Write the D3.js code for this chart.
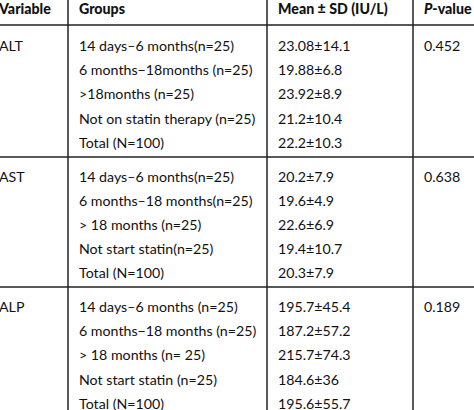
<!DOCTYPE html>
<html><head><meta charset="utf-8">
<script src="https://cdn.jsdelivr.net/npm/d3@7"></script>
<style>body{margin:0;background:#fff}text{font-family:Lato,"Open Sans",sans-serif;fill:#111}</style>
</head><body><svg id="t" width="474" height="410"></svg>
<script>
const headers = ['Variable', 'Groups', 'Mean ± SD (IU/L)', 'P-value'];
const variables = ['ALT', 'AST', 'ALP'];
const pValues = ['0.452', '0.638', '0.189'];
const groups = [
  ['14 days–6 months(n=25)', '6 months−18months (n=25)', '>18months (n=25)', 'Not on statin therapy (n=25)', 'Total (N=100)'],
  ['14 days–6 months(n=25)', '6 months–18 months(n=25)', '> 18 months (n=25)', 'Not start statin(n=25)', 'Total (N=100)'],
  ['14 days–6 months (n=25)', '6 months−18 months (n=25)', '> 18 months (n= 25)', 'Not start statin (n=25)', 'Total (N=100)']
];
const means = [
  ['23.08±14.1', '19.88±6.8', '23.92±8.9', '21.2±10.4', '22.2±10.3'],
  ['20.2±7.9', '19.6±4.9', '22.6±6.9', '19.4±10.7', '20.3±7.9'],
  ['195.7±45.4', '187.2±57.2', '215.7±74.3', '184.6±36', '195.6±55.7']
];

const svg = d3.select('#t');
const colX = [-1, 79, 278, 424];
const rowY = d3.scaleLinear().domain([0, 1]).range([51, 75.2]);
const fs = 14.2;

// header
svg.selectAll('.h').data(headers).enter().append('text')
  .attr('x', (d, i) => colX[i]).attr('y', 14)
  .attr('font-size', fs).attr('font-weight', 900)
  .each(function(d, i) {
    const t = d3.select(this);
    if (i === 3) {
      t.append('tspan').attr('font-style', 'italic').text('P');
      t.append('tspan').text('-value');
    } else t.text(d);
  });

// horizontal lines
[25, 157, 287].forEach(y => svg.append('line')
  .attr('x1', 0).attr('x2', 474).attr('y1', y).attr('y2', y)
  .attr('stroke', '#222').attr('stroke-width', 1.5));
// vertical lines
[68, 267, 413].forEach(x => svg.append('line')
  .attr('x1', x).attr('x2', x).attr('y1', 0).attr('y2', 410)
  .attr('stroke', '#222').attr('stroke-width', 1.5));

variables.forEach((v, b) => {
  const off = b * 130.5;
  const g = svg.append('g');
  g.append('text').attr('x', colX[0]).attr('y', rowY(0) + off).attr('font-size', fs).text(v);
  g.append('text').attr('x', colX[3]).attr('y', rowY(0) + off).attr('font-size', fs).text(pValues[b]);
  g.selectAll('.g').data(groups[b]).enter().append('text')
    .attr('x', colX[1]).attr('y', (d, i) => rowY(i) + off).attr('font-size', fs).text(d => d);
  g.selectAll('.m').data(means[b]).enter().append('text')
    .attr('x', colX[2]).attr('y', (d, i) => rowY(i) + off).attr('font-size', fs).text(d => d);
});
</script></body></html>
